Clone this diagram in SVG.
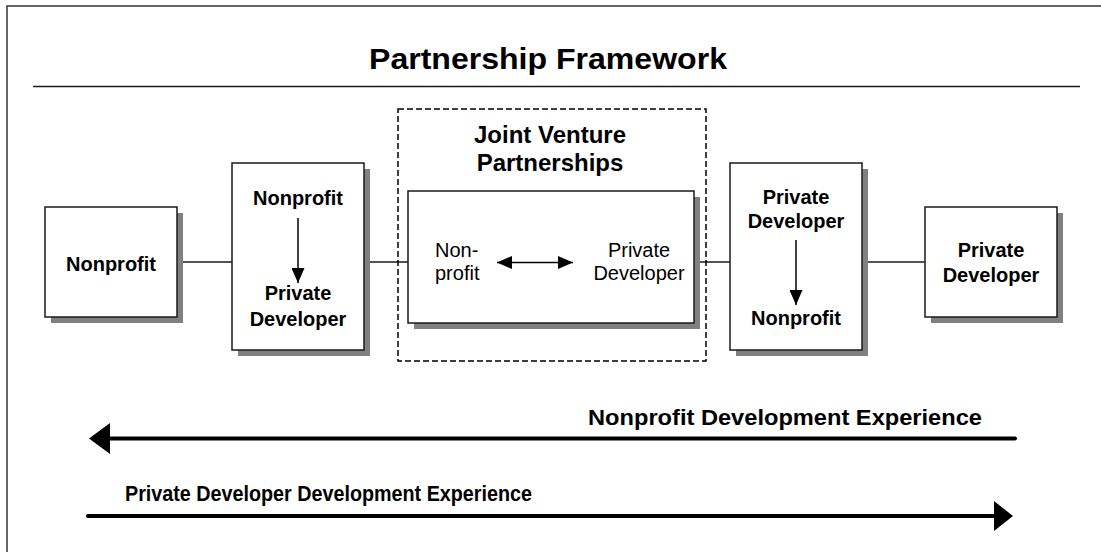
<svg xmlns="http://www.w3.org/2000/svg" width="1101" height="552" viewBox="0 0 1101 552">
<style>
.b{font-family:"Liberation Sans",Arial,sans-serif;font-weight:bold;font-size:20px;fill:#000;text-anchor:middle}
.r{font-family:"Liberation Sans",Arial,sans-serif;font-size:20px;fill:#000}
.box{fill:#fff;stroke:#1a1a1a;stroke-width:1.5}
.sh{fill:#808080}
.ln{stroke:#1a1a1a;stroke-width:1.5;fill:none}
</style>
<defs>
<marker id="ah" viewBox="0 0 15 13" refX="15" refY="6.5" markerWidth="15" markerHeight="13" markerUnits="userSpaceOnUse" orient="auto-start-reverse"><path d="M0,0 L15,6.5 L0,13 z" fill="#000"/></marker>
</defs>
<rect x="0" y="0" width="1101" height="552" fill="#fff"/>
<rect x="7" y="6" width="1110" height="560" fill="none" stroke="#333" stroke-width="1.5"/>
<g id="title">
<text x="548" y="69" font-family="Liberation Sans, Arial, sans-serif" font-weight="bold" font-size="30" text-anchor="middle" textLength="358" lengthAdjust="spacingAndGlyphs">Partnership Framework</text>
<line x1="33" y1="86.5" x2="1080" y2="86.5" stroke="#1a1a1a" stroke-width="1.5"/>
</g>
<g id="connectors">
<line class="ln" x1="177" y1="262" x2="232" y2="262"/>
<line class="ln" x1="364" y1="262" x2="408" y2="262"/>
<line class="ln" x1="694" y1="262" x2="730" y2="262"/>
<line class="ln" x1="862" y1="262" x2="925" y2="262"/>
</g>
<g id="jv-group">
<rect x="398" y="109" width="308" height="252" fill="none" stroke="#000" stroke-width="1.5" stroke-dasharray="6,3"/>
<text class="b" x="550" y="143" style="font-size:24px">Joint Venture</text>
<text class="b" x="550" y="171" style="font-size:24px">Partnerships</text>
</g>
<g id="node-nonprofit">
<rect class="sh" x="51" y="213" width="132" height="110"/>
<rect class="box" x="45" y="207" width="132" height="110"/>
<text class="b" x="111" y="271">Nonprofit</text>
</g>
<g id="node-np-to-pd">
<rect class="sh" x="238" y="169" width="132" height="187"/>
<rect class="box" x="232" y="163" width="132" height="187"/>
<text class="b" x="298" y="205">Nonprofit</text>
<line x1="298" y1="218" x2="298" y2="283" stroke="#000" stroke-width="1.5" marker-end="url(#ah)"/>
<text class="b" x="298" y="300">Private</text>
<text class="b" x="298" y="326">Developer</text>
</g>
<g id="node-joint">
<rect class="sh" x="414" y="197" width="286" height="132"/>
<rect class="box" x="408" y="191" width="286" height="132"/>
<text class="r" x="435" y="257">Non-</text>
<text class="r" x="435" y="280">profit</text>
<line x1="497" y1="262.5" x2="573" y2="262.5" stroke="#000" stroke-width="1.5" marker-start="url(#ah)" marker-end="url(#ah)"/>
<text class="r" x="639" y="257" text-anchor="middle">Private</text>
<text class="r" x="639" y="280" text-anchor="middle">Developer</text>
</g>
<g id="node-pd-to-np">
<rect class="sh" x="736" y="169" width="132" height="187"/>
<rect class="box" x="730" y="163" width="132" height="187"/>
<text class="b" x="796" y="204">Private</text>
<text class="b" x="796" y="228">Developer</text>
<line x1="796" y1="240" x2="796" y2="305" stroke="#000" stroke-width="1.5" marker-end="url(#ah)"/>
<text class="b" x="796" y="325">Nonprofit</text>
</g>
<g id="node-private">
<rect class="sh" x="931" y="213" width="132" height="110"/>
<rect class="box" x="925" y="207" width="132" height="110"/>
<text class="b" x="991" y="257">Private</text>
<text class="b" x="991" y="282">Developer</text>
</g>
<g id="experience-arrows">
<text class="b" x="785" y="425" style="font-size:22px" textLength="394" lengthAdjust="spacingAndGlyphs">Nonprofit Development Experience</text>
<line x1="108" y1="438.5" x2="1015" y2="438.5" stroke="#000" stroke-width="4" stroke-linecap="round"/>
<path d="M89,438.5 L110,423 L110,454 z" fill="#000"/>
<text x="125" y="501" font-family="Liberation Sans, Arial, sans-serif" font-weight="bold" font-size="22" textLength="407" lengthAdjust="spacingAndGlyphs">Private Developer Development Experience</text>
<line x1="88" y1="516" x2="996" y2="516" stroke="#000" stroke-width="4" stroke-linecap="round"/>
<path d="M1013,516 L994,501 L994,531 z" fill="#000"/>
</g>
</svg>
